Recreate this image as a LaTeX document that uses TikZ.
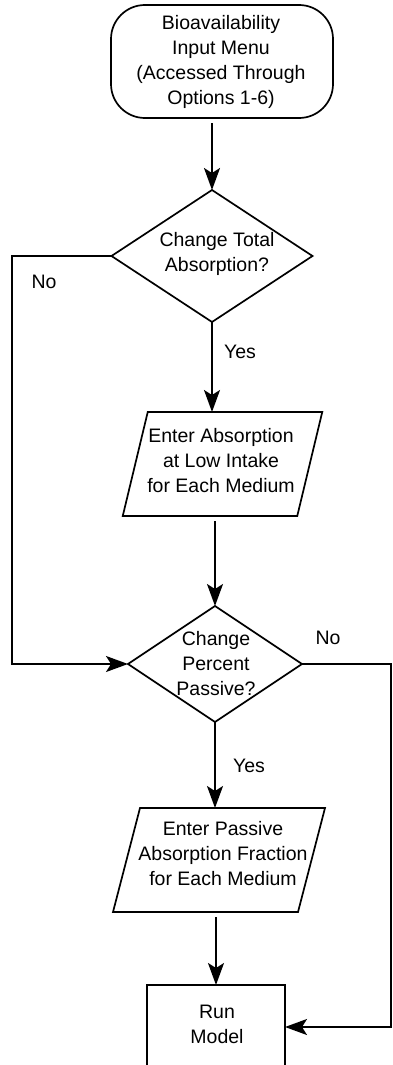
\documentclass[tikz,border=0pt]{standalone}
\usepackage{fontspec}
\setmainfont{Liberation Sans}
\usetikzlibrary{shapes.geometric,arrows.meta}
\begin{document}
\begin{tikzpicture}[x=1pt,y=-1pt,
  every node/.style={inner sep=0pt, outer sep=0pt},
  shapeline/.style={draw=black, line width=1.7pt},
  lbl/.style={font=\fontsize{19.5}{25}\selectfont, align=center},
  conn/.style={line width=1.7pt, -{Stealth[length=22pt,width=16pt,inset=5pt]}},
  term/.style={shapeline, rectangle, rounded corners=34pt, minimum width=222pt, minimum height=113pt},
  decis/.style={shapeline, diamond},
  iobox/.style={rectangle, minimum height=104pt},
  procbox/.style={shapeline, rectangle, minimum width=138pt, minimum height=84pt}
]
\useasboundingbox (0,0) rectangle (392,1065);
% shapes
\node[term] (start) at (222,61.5) {};
\node[decis, minimum width=201pt, minimum height=132pt] (d1) at (212,256) {};
\node[iobox, minimum width=174.5pt] (p1) at (222.5,464) {};
\draw[shapeline, line join=miter] ([xshift=-12.5pt]p1.south west) -- ([xshift=12.5pt]p1.north west) -- ([xshift=12.5pt]p1.north east) -- ([xshift=-12.5pt]p1.south east) -- cycle;
\node[decis, minimum width=174pt, minimum height=116pt] (d2) at (215,664) {};
\node[iobox, minimum width=185pt] (p2) at (219,860) {};
\draw[shapeline, line join=miter] ([xshift=-13.5pt]p2.south west) -- ([xshift=13.5pt]p2.north west) -- ([xshift=13.5pt]p2.north east) -- ([xshift=-13.5pt]p2.south east) -- cycle;
\node[procbox] (run) at (216,1027) {};
% texts
\node[lbl] (tstart) at (221,62) {Bioavailability\\Input Menu\\(Accessed Through\\Options 1-6)};
\node[lbl] (td1) at (217,254) {Change Total\\Absorption?};
\node[lbl] (tp1) at (221,461) {Enter Absorption\\at Low Intake\\for Each Medium};
\node[lbl] (td2) at (216,664) {Change\\Percent\\Passive?};
\node[lbl] (tp2) at (223,854) {Enter Passive\\Absorption Fraction\\for Each Medium};
\node[lbl] (trun) at (217,1024) {Run\\Model};
% branch labels
\node[lbl] (no1) at (44,282) {No};
\node[lbl] (yes1) at (240,352) {Yes};
\node[lbl] (no2) at (328,638) {No};
\node[lbl] (yes2) at (249,766) {Yes};
% routing points
\coordinate (lx) at (12,450);
\coordinate (rx) at (391,850);
% connectors
\draw[conn, shorten <=5pt] (start.south -| d1.north) -- (d1.north);
\draw[conn] (d1.south) -- (d1.south |- p1.north);
\draw[conn, shorten <=5pt] (d2.north |- p1.south) -- (d2.north);
\draw[conn] (d1.west) -| (lx) |- (d2.west);
\draw[conn] (d2.south) -- (d2.south |- p2.north);
\draw[conn, shorten <=5pt] (run.north |- p2.south) -- (run.north);
\draw[conn] (d2.east) -| (rx) |- (run.east);
\end{tikzpicture}
\end{document}
